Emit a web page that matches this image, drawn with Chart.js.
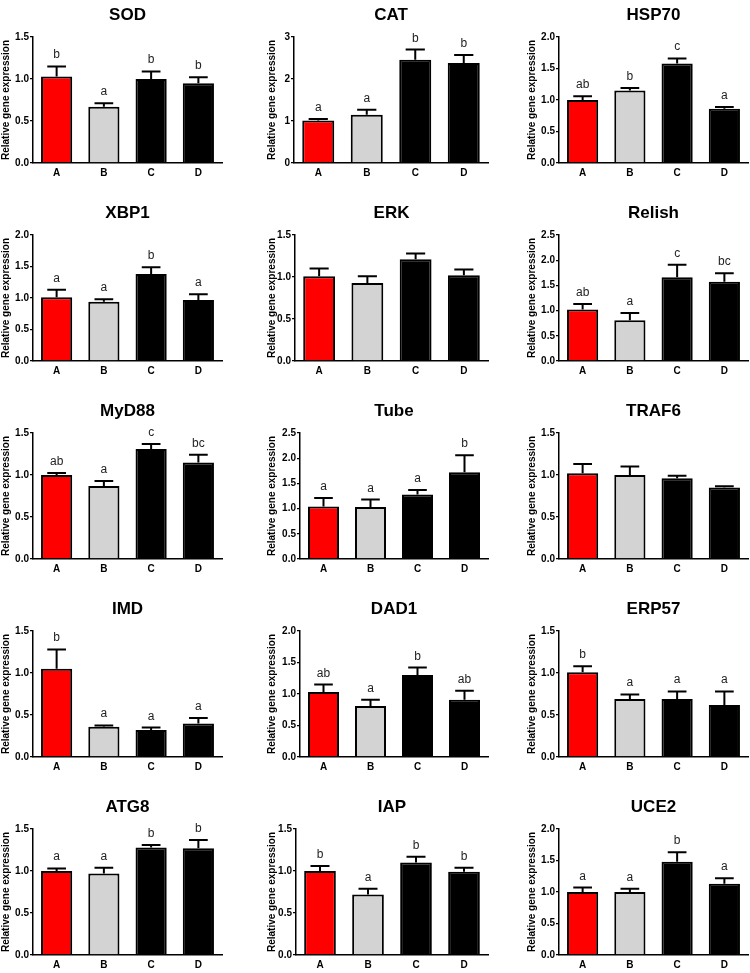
<!DOCTYPE html>
<html>
<head>
<meta charset="utf-8">
<script src="https://cdn.jsdelivr.net/npm/chart.js@4.4.0/dist/chart.umd.min.js"></script>
<style>
  html, body { margin: 0; padding: 0; background: #fff; overflow: hidden; }
  #wrap { position: relative; width: 750px; height: 973px; }
  canvas { position: absolute; }
</style>
</head>
<body>
<div id="wrap"></div>
<script>
const categories = ['A', 'B', 'C', 'D'];
const genes = ['SOD', 'CAT', 'HSP70', 'XBP1', 'ERK', 'Relish', 'MyD88', 'Tube', 'TRAF6',
  'IMD', 'DAD1', 'ERP57', 'ATG8', 'IAP', 'UCE2'];

// mean relative expression, one row per gene (A, B, C, D)
const means = [
  [1.03, 0.67, 1.00, 0.95],
  [1.01, 1.15, 2.46, 2.38],
  [1.00, 1.15, 1.58, 0.86],
  [1.01, 0.94, 1.38, 0.97],
  [1.01, 0.93, 1.21, 1.02],
  [1.02, 0.81, 1.66, 1.57],
  [1.00, 0.87, 1.31, 1.15],
  [1.04, 1.03, 1.28, 1.72],
  [1.02, 1.00, 0.96, 0.85],
  [1.05, 0.36, 0.32, 0.40],
  [1.03, 0.81, 1.30, 0.91],
  [1.01, 0.69, 0.69, 0.62],
  [1.00, 0.97, 1.28, 1.27],
  [1.00, 0.72, 1.10, 0.99],
  [1.00, 1.00, 1.48, 1.13]
];

// upper error (SE)
const errors = [
  [0.12, 0.04, 0.09, 0.07],
  [0.04, 0.12, 0.24, 0.19],
  [0.06, 0.04, 0.08, 0.03],
  [0.12, 0.04, 0.11, 0.09],
  [0.09, 0.08, 0.07, 0.07],
  [0.11, 0.14, 0.25, 0.17],
  [0.025, 0.06, 0.06, 0.09],
  [0.17, 0.15, 0.09, 0.34],
  [0.11, 0.10, 0.03, 0.016],
  [0.23, 0.016, 0.03, 0.065],
  [0.12, 0.10, 0.12, 0.14],
  [0.07, 0.055, 0.09, 0.16],
  [0.03, 0.07, 0.03, 0.10],
  [0.06, 0.07, 0.07, 0.05],
  [0.07, 0.05, 0.15, 0.09]
];

const letters = [
  ['b', 'a', 'b', 'b'],
  ['a', 'a', 'b', 'b'],
  ['ab', 'b', 'c', 'a'],
  ['a', 'a', 'b', 'a'],
  ['', '', '', ''],
  ['ab', 'a', 'c', 'bc'],
  ['ab', 'a', 'c', 'bc'],
  ['a', 'a', 'a', 'b'],
  ['', '', '', ''],
  ['b', 'a', 'a', 'a'],
  ['ab', 'a', 'b', 'ab'],
  ['b', 'a', 'a', 'a'],
  ['a', 'a', 'b', 'b'],
  ['b', 'a', 'b', 'b'],
  ['a', 'a', 'b', 'a']
];

const yMax = [1.5, 3, 2, 2, 1.5, 2.5, 1.5, 2.5, 1.5, 1.5, 2, 1.5, 1.5, 1.5, 2];
const yStep = [0.5, 1, 0.5, 0.5, 0.5, 0.5, 0.5, 0.5, 0.5, 0.5, 0.5, 0.5, 0.5, 0.5, 0.5];

// layout of each panel inside its 250x198 canvas
const plotLeft = [33, 44, 59, 33, 45, 59, 33, 50, 59, 33, 50, 59, 33, 46, 59];
const plotRight = [222, 238, 248];
const yTitleX = [6, 22, 32];
const barColors = ['#ff0000', '#d3d3d3', '#000000', '#000000'];
const FONT = 'Liberation Sans, Arial, sans-serif';

const wrap = document.getElementById('wrap');

function errorBars(i) {
  return {
    id: 'errorBars' + i,
    afterDatasetsDraw(chart) {
      const ctx = chart.ctx;
      const meta = chart.getDatasetMeta(0);
      const y = chart.scales.y;
      ctx.save();
      meta.data.forEach((bar, j) => {
        const top = y.getPixelForValue(means[i][j] + errors[i][j]);
        const half = bar.width * 0.3;
        ctx.strokeStyle = '#000';
        ctx.lineWidth = 2;
        ctx.beginPath();
        ctx.moveTo(bar.x, bar.y);
        ctx.lineTo(bar.x, top);
        ctx.moveTo(bar.x - half, top);
        ctx.lineTo(bar.x + half, top);
        ctx.stroke();
        if (letters[i][j]) {
          ctx.fillStyle = '#222';
          ctx.font = '12px ' + FONT;
          ctx.textAlign = 'center';
          ctx.textBaseline = 'alphabetic';
          ctx.fillText(letters[i][j], bar.x, top - 8);
        }
      });
      ctx.restore();
    }
  };
}

genes.forEach((gene, i) => {
  const col = i % 3, row = Math.floor(i / 3);
  const cv = document.createElement('canvas');
  cv.width = 250;
  cv.height = 198;
  cv.style.left = (col * 250) + 'px';
  cv.style.top = (row * 198) + 'px';
  wrap.appendChild(cv);
  const decimals = yStep[i] < 1 ? 1 : 0;

  new Chart(cv.getContext('2d'), {
    type: 'bar',
    data: {
      labels: categories,
      datasets: [{
        data: means[i],
        backgroundColor: barColors,
        borderColor: '#000',
        borderWidth: 2,
        barPercentage: 0.66,
        categoryPercentage: 1
      }]
    },
    plugins: [errorBars(i)],
    options: {
      responsive: false,
      animation: false,
      layout: { padding: { left: 0, right: 250 - plotRight[col], top: 0, bottom: 15 } },
      plugins: {
        legend: { display: false },
        tooltip: { enabled: false },
        title: {
          display: true,
          text: gene,
          fullSize: false,
          color: '#000',
          font: { family: FONT, size: 17, weight: 'bold', lineHeight: 1.2 },
          padding: { top: 5, bottom: 11.6 }
        }
      },
      scales: {
        x: {
          afterFit: s => { s.height = 20; },
          grid: { display: false, drawTicks: false },
          border: { display: true, color: '#000', width: 1.5 },
          ticks: { color: '#000', padding: 4, font: { family: FONT, size: 10, weight: 'bold' } }
        },
        y: {
          min: 0,
          max: yMax[i],
          afterFit: s => { s.width = plotLeft[i]; },
          grid: { display: true, drawOnChartArea: false, drawTicks: true, tickLength: 3, color: '#000', lineWidth: 1.3 },
          border: { display: true, color: '#000', width: 1.5 },
          ticks: {
            stepSize: yStep[i],
            color: '#000',
            padding: 1,
            font: { family: FONT, size: 10, weight: 'bold' },
            callback: v => Number(v).toFixed(decimals)
          },
          title: {
            display: true,
            text: 'Relative gene expression',
            color: '#000',
            font: { family: FONT, size: 10, weight: 'bold', lineHeight: 1.2 },
            padding: { top: yTitleX[col] - 6, bottom: 0 }
          }
        }
      }
    }
  });
});
</script>
</body>
</html>
